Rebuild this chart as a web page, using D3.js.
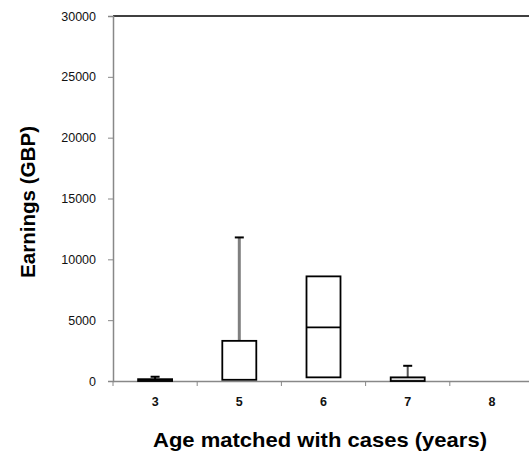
<!DOCTYPE html>
<html>
<head>
<meta charset="utf-8">
<script src="https://cdn.jsdelivr.net/npm/d3@7"></script>
<style>
html,body{margin:0;padding:0;background:#fff;overflow:hidden;}
svg{display:block;font-family:"Liberation Sans",Arial,sans-serif;}
</style>
</head>
<body>
<svg id="chart" width="529" height="452"></svg>
<script>
// Data
const categories = ["3", "5", "6", "7", "8"];
const q1Values     = [0,   100,  300,  0,    null];
const medianValues = [0,   100,  4400, 0,    null];
const q3Values     = [150, 3300, 8600, 300,  null];
const maxValues    = [350, 11800, 8600, 1250, null];
const yTicks = [0, 5000, 10000, 15000, 20000, 25000, 30000];

const svg = d3.select("#chart");
const mLeft = 113, mRight = 534, mTop = 16, mBottom = 381;

const x = d3.scaleBand().domain(categories).range([mLeft, mRight]).padding(0);
const y = d3.scaleLinear().domain([0, 30000]).range([mBottom, mTop]);

// top border line
svg.append("line").attr("x1", mLeft).attr("x2", 529).attr("y1", mTop).attr("y2", mTop)
  .attr("stroke", "#000").attr("stroke-width", 1.5);

// Y axis
const yAxis = svg.append("g").attr("transform", `translate(${mLeft},0)`)
  .call(d3.axisLeft(y).tickValues(yTicks).tickSize(5).tickPadding(12).tickFormat(d3.format("d")));
yAxis.select(".domain").attr("stroke", "#888").attr("stroke-width", 1.5);
yAxis.selectAll(".tick line").attr("stroke", "#888");
yAxis.selectAll("text").attr("font-size", 12.5).attr("fill", "#111")
  .attr("font-family", "'Liberation Sans', Arial, sans-serif");

// X axis
const xAxis = svg.append("g").attr("transform", `translate(0,${mBottom})`)
  .call(d3.axisBottom(x).tickSize(0).tickPadding(16));
xAxis.select(".domain").attr("stroke", "#888").attr("stroke-width", 1.5);
xAxis.selectAll("text").attr("font-size", 12.5).attr("font-weight", "bold").attr("fill", "#111")
  .attr("font-family", "'Liberation Sans', Arial, sans-serif");
// boundary ticks between categories
xAxis.selectAll(".bound").data(categories).enter().append("line")
  .attr("class", "bound")
  .attr("x1", d => x(d)).attr("x2", d => x(d))
  .attr("y1", 0).attr("y2", 5).attr("stroke", "#888").attr("stroke-width", 1);

const rows = categories.map((c, i) => ({
  c, q1: q1Values[i], med: medianValues[i], q3: q3Values[i], max: maxValues[i]
})).filter(d => d.q3 !== null);

const boxW = 34, capW = 9;
const g = svg.append("g");

// whiskers
rows.filter(d => d.max > d.q3).forEach(d => {
  const cx = x(d.c) + x.bandwidth() / 2;
  const col = d.c === "5" ? "#808080" : (d.c === "7" ? "#555" : "#000");
  g.append("line").attr("x1", cx).attr("x2", cx).attr("y1", y(d.q3)).attr("y2", y(d.max))
    .attr("stroke", col).attr("stroke-width", d.c === "5" ? 3 : 2);
  g.append("line").attr("x1", cx - capW / 2).attr("x2", cx + capW / 2).attr("y1", y(d.max)).attr("y2", y(d.max))
    .attr("stroke", "#000").attr("stroke-width", 2);
});

// boxes
rows.forEach(d => {
  const cx = x(d.c) + x.bandwidth() / 2;
  g.append("rect").attr("x", cx - boxW / 2).attr("width", boxW)
    .attr("y", y(d.q3)).attr("height", Math.max(0, y(d.q1) - y(d.q3)))
    .attr("fill", d.c === "7" ? "#ddd" : "#fff").attr("stroke", "#000").attr("stroke-width", 1.8);
  if (d.med > d.q1 && d.med < d.q3) {
    g.append("line").attr("x1", cx - boxW / 2).attr("x2", cx + boxW / 2)
      .attr("y1", y(d.med)).attr("y2", y(d.med)).attr("stroke", "#000").attr("stroke-width", 1.8);
  }
});

// axis titles
svg.append("text").attr("x", 320).attr("y", 447).attr("text-anchor", "middle")
  .attr("font-size", 21).attr("font-weight", "bold").attr("fill", "#000")
  .attr("textLength", 334).attr("lengthAdjust", "spacingAndGlyphs")
  .text("Age matched with cases (years)");
svg.append("text").attr("transform", "translate(35,202) rotate(-90)").attr("text-anchor", "middle")
  .attr("font-size", 20).attr("font-weight", "bold").attr("fill", "#000")
  .attr("textLength", 152).attr("lengthAdjust", "spacingAndGlyphs")
  .text("Earnings (GBP)");
</script>
</body>
</html>
